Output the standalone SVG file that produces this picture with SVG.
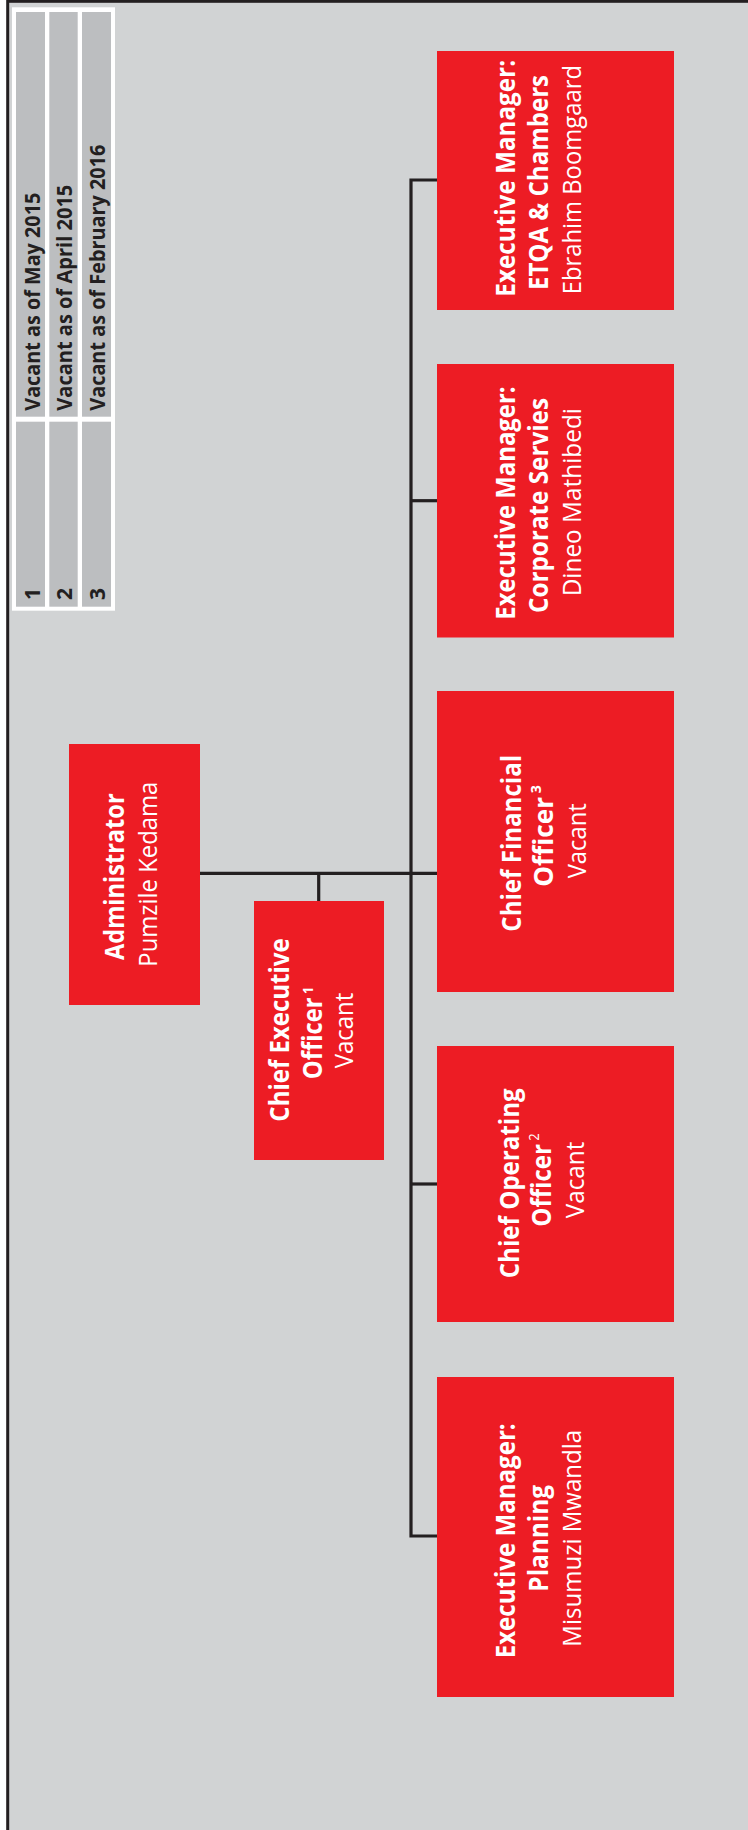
<svg xmlns="http://www.w3.org/2000/svg" width="748" height="1830" viewBox="0 0 748 1830">
<style>
.box{fill:#ed1c24}
.cell{fill:#bcbec0}
.b{font-family:"Open Sans","Noto Sans",sans-serif;font-weight:700;font-size:26px;fill:#ffffff;text-anchor:middle}
.r{font-family:"Open Sans","Noto Sans",sans-serif;font-weight:400;font-size:26px;fill:#ffffff;text-anchor:middle}
.sup{font-size:14px}
.lg{font-family:"Open Sans","Noto Sans",sans-serif;font-weight:700;font-size:21px;fill:#231f20;text-anchor:start}
.con{fill:none;stroke:#231f20;stroke-width:3.2}
</style>
<rect x="0" y="0" width="748" height="1830" fill="#ffffff"/>
<rect x="7.7" y="1.3" width="800" height="1900" fill="#d1d3d4" stroke="#231f20" stroke-width="3"/>

<g id="legend">
<rect x="12" y="7.3" width="103" height="603.4" fill="#ffffff"/>
<rect class="cell" x="16" y="12" width="29" height="404.7"/>
<rect class="cell" x="49.3" y="12" width="28.4" height="404.7"/>
<rect class="cell" x="82" y="12" width="29" height="404.7"/>
<rect class="cell" x="16" y="421.7" width="29" height="185"/>
<rect class="cell" x="49.3" y="421.7" width="28.4" height="185"/>
<rect class="cell" x="82" y="421.7" width="29" height="185"/>
<text class="lg" transform="translate(39.5,600) rotate(-90)">1</text>
<text class="lg" transform="translate(71.7,600) rotate(-90)">2</text>
<text class="lg" transform="translate(105,600) rotate(-90)">3</text>
<text class="lg" transform="translate(39.5,410.7) rotate(-90)" textLength="218" lengthAdjust="spacingAndGlyphs">Vacant as of May 2015</text>
<text class="lg" transform="translate(71.7,410.7) rotate(-90)" textLength="226" lengthAdjust="spacingAndGlyphs">Vacant as of April 2015</text>
<text class="lg" transform="translate(105,410.7) rotate(-90)" textLength="266" lengthAdjust="spacingAndGlyphs">Vacant as of February 2016</text>
</g>

<g id="connectors">
<path class="con" d="M437,180 H411 V1536 H437"/>
<path class="con" d="M411,500.7 H437"/>
<path class="con" d="M411,1184 H437"/>
<path class="con" d="M200,873.3 H437"/>
<path class="con" d="M318.7,873.3 V901"/>
</g>

<g id="node-administrator">
<rect class="box" x="69" y="744" width="131" height="261"/>
<text class="b" transform="translate(124,876.7) rotate(-90)" textLength="166.7" lengthAdjust="spacingAndGlyphs">Administrator</text>
<text class="r" transform="translate(157,874.2) rotate(-90)" textLength="185" lengthAdjust="spacingAndGlyphs">Pumzile Kedama</text>
</g>

<g id="node-ceo">
<rect class="box" x="254" y="901" width="130" height="259"/>
<text class="b" transform="translate(289.3,1030) rotate(-90)" textLength="183.3" lengthAdjust="spacingAndGlyphs">Chief Executive</text>
<text class="b" transform="translate(321.7,1033) rotate(-90)" textLength="92.7" lengthAdjust="spacingAndGlyphs">Officer<tspan class="sup" dy="-9"> 1</tspan></text>
<text class="r" transform="translate(353.3,1030.5) rotate(-90)" textLength="75.7" lengthAdjust="spacingAndGlyphs">Vacant</text>
</g>

<g id="node-etqa">
<rect class="box" x="437" y="51" width="237" height="259"/>
<text class="b" transform="translate(515,178.3) rotate(-90)" textLength="236.7" lengthAdjust="spacingAndGlyphs">Executive Manager:</text>
<text class="b" transform="translate(548.3,182.5) rotate(-90)" textLength="215" lengthAdjust="spacingAndGlyphs">ETQA &amp; Chambers</text>
<text class="r" transform="translate(580.7,179.7) rotate(-90)" textLength="229.3" lengthAdjust="spacingAndGlyphs">Ebrahim Boomgaard</text>
</g>

<g id="node-corporate">
<rect class="box" x="437" y="364" width="237" height="273.5"/>
<text class="b" transform="translate(515,503) rotate(-90)" textLength="233.3" lengthAdjust="spacingAndGlyphs">Executive Manager:</text>
<text class="b" transform="translate(548.3,505.5) rotate(-90)" textLength="215" lengthAdjust="spacingAndGlyphs">Corporate Servies</text>
<text class="r" transform="translate(580.7,502.2) rotate(-90)" textLength="188.3" lengthAdjust="spacingAndGlyphs">Dineo Mathibedi</text>
</g>

<g id="node-cfo">
<rect class="box" x="437" y="691" width="237" height="301"/>
<text class="b" transform="translate(520.7,843.3) rotate(-90)" textLength="176.7" lengthAdjust="spacingAndGlyphs">Chief Financial</text>
<text class="b" transform="translate(553.3,836) rotate(-90)" textLength="101.7" lengthAdjust="spacingAndGlyphs">Officer<tspan class="sup" dy="-12"> 3</tspan></text>
<text class="r" transform="translate(586,840.8) rotate(-90)" textLength="75" lengthAdjust="spacingAndGlyphs">Vacant</text>
</g>

<g id="node-coo">
<rect class="box" x="437" y="1046" width="237" height="276"/>
<text class="b" transform="translate(519.3,1183.3) rotate(-90)" textLength="190" lengthAdjust="spacingAndGlyphs">Chief Operating</text>
<text class="b" transform="translate(550.7,1180) rotate(-90)" textLength="93.3" lengthAdjust="spacingAndGlyphs">Officer<tspan class="sup" font-weight="400" dy="-12"> 2</tspan></text>
<text class="r" transform="translate(584,1180) rotate(-90)" textLength="76.7" lengthAdjust="spacingAndGlyphs">Vacant</text>
</g>

<g id="node-planning">
<rect class="box" x="437" y="1377" width="237" height="320"/>
<text class="b" transform="translate(515,1540.8) rotate(-90)" textLength="235" lengthAdjust="spacingAndGlyphs">Executive Manager:</text>
<text class="b" transform="translate(548.3,1538.3) rotate(-90)" textLength="106.7" lengthAdjust="spacingAndGlyphs">Planning</text>
<text class="r" transform="translate(580.7,1538.3) rotate(-90)" textLength="216.7" lengthAdjust="spacingAndGlyphs">Misumuzi Mwandla</text>
</g>
</svg>
